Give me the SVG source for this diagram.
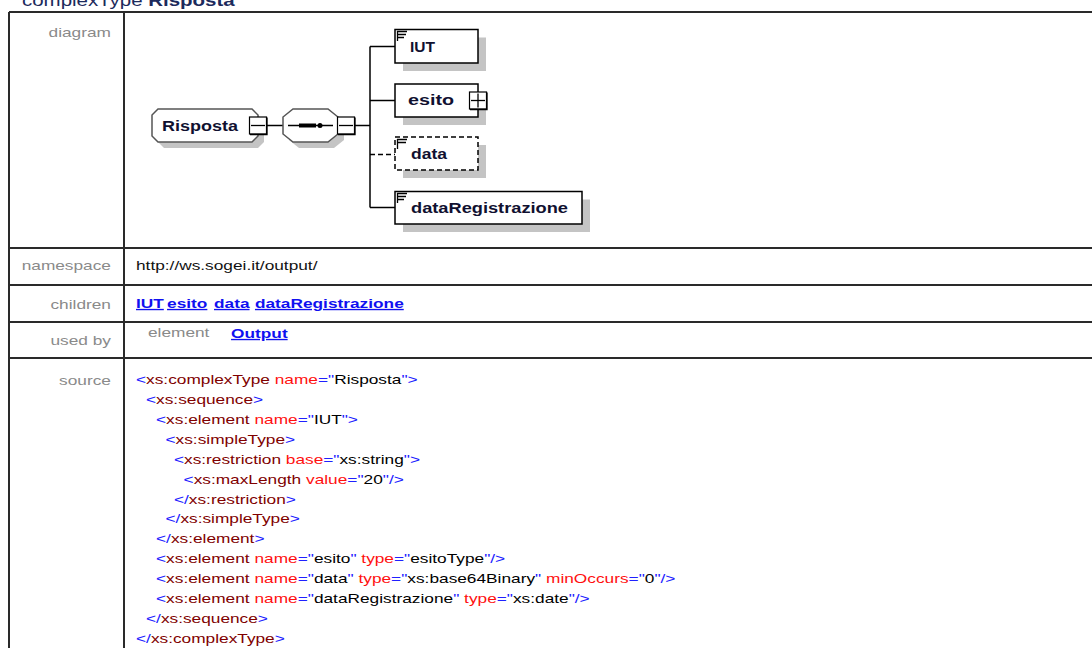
<svg xmlns="http://www.w3.org/2000/svg" width="1092" height="648" viewBox="0 0 1092 648">
<style>
text{font-family:"Liberation Sans",Arial,sans-serif}
.grid{stroke:#2a2a2a;stroke-width:2;fill:none}
.lbl{font-size:13.5px;fill:#8a8a8a;text-anchor:end}
.val{font-size:13.5px;fill:#111}
.lnk{font-size:13.5px;font-weight:bold;fill:#1010f0;text-decoration:underline}
.src{font-size:13.5px}
.b{fill:#2020ff}.e{fill:#800000}.a{fill:#ff1010}.v{fill:#000}
.shadow{fill:#c4c4c4;stroke:none}
.elem{fill:#fff;stroke:#000;stroke-width:1.5}
.comp{fill:#fff;stroke:#555;stroke-width:1.5}
.opt{stroke-dasharray:5,3}
.nt{font-size:14px;font-weight:bold;fill:#101030}
.conn{stroke:#000;stroke-width:1.5;fill:none}
.box{fill:#fff;stroke:#000;stroke-width:1.2}
.icon{stroke:#000;stroke-width:1.3;fill:none}
</style>
<rect width="1092" height="648" fill="#fff"/>
<!-- title -->
<g transform="scale(1.28,1)">
<text x="17.2" y="6" font-size="16" fill="#1c2a5c">complexType <tspan font-weight="bold">Risposta</tspan></text>
</g>
<!-- table grid -->
<g id="table">
<line class="grid" x1="9" y1="12" x2="1092" y2="12"/>
<line class="grid" x1="9" y1="248" x2="1092" y2="248"/>
<line class="grid" x1="9" y1="285" x2="1092" y2="285"/>
<line class="grid" x1="9" y1="322" x2="1092" y2="322"/>
<line class="grid" x1="9" y1="358" x2="1092" y2="358"/>
<line class="grid" x1="9" y1="12" x2="9" y2="648"/>
<line class="grid" x1="124" y1="12" x2="124" y2="648"/>
</g>
<!-- table texts -->
<g id="table-text" transform="scale(1.28,1)">
<text class="lbl" x="86.7" y="37">diagram</text>
<text class="lbl" x="86.7" y="270">namespace</text>
<text class="lbl" x="86.7" y="309">children</text>
<text class="lbl" x="86.7" y="345">used by</text>
<text class="lbl" x="86.7" y="385">source</text>
<text class="val" x="106.25" y="270">http://ws.sogei.it/output/</text>
<text class="lnk" x="106.25" y="308">IUT</text>
<text class="lnk" x="130.5" y="308">esito</text>
<text class="lnk" x="167.2" y="308">data</text>
<text class="lnk" x="199.2" y="308">dataRegistrazione</text>
<text class="lbl" x="115.6" y="337" style="text-anchor:start">element</text>
<text class="lnk" x="180.5" y="338">Output</text>
<text class="src" x="106.25" y="384.5"><tspan class="b">&lt;</tspan><tspan class="e">xs:complexType</tspan><tspan class="a"> name</tspan><tspan class="b">="</tspan><tspan class="v">Risposta</tspan><tspan class="b">"&gt;</tspan></text>
<text class="src" x="114.06" y="404.35"><tspan class="b">&lt;</tspan><tspan class="e">xs:sequence</tspan><tspan class="b">&gt;</tspan></text>
<text class="src" x="121.88" y="424.2"><tspan class="b">&lt;</tspan><tspan class="e">xs:element</tspan><tspan class="a"> name</tspan><tspan class="b">="</tspan><tspan class="v">IUT</tspan><tspan class="b">"&gt;</tspan></text>
<text class="src" x="129.3" y="444.05"><tspan class="b">&lt;</tspan><tspan class="e">xs:simpleType</tspan><tspan class="b">&gt;</tspan></text>
<text class="src" x="135.9" y="463.9"><tspan class="b">&lt;</tspan><tspan class="e">xs:restriction</tspan><tspan class="a"> base</tspan><tspan class="b">="</tspan><tspan class="v">xs:string</tspan><tspan class="b">"&gt;</tspan></text>
<text class="src" x="143.4" y="483.75"><tspan class="b">&lt;</tspan><tspan class="e">xs:maxLength</tspan><tspan class="a"> value</tspan><tspan class="b">="</tspan><tspan class="v">20</tspan><tspan class="b">"/&gt;</tspan></text>
<text class="src" x="135.9" y="503.6"><tspan class="b">&lt;/</tspan><tspan class="e">xs:restriction</tspan><tspan class="b">&gt;</tspan></text>
<text class="src" x="129.3" y="523.45"><tspan class="b">&lt;/</tspan><tspan class="e">xs:simpleType</tspan><tspan class="b">&gt;</tspan></text>
<text class="src" x="121.88" y="543.3"><tspan class="b">&lt;/</tspan><tspan class="e">xs:element</tspan><tspan class="b">&gt;</tspan></text>
<text class="src" x="121.88" y="563.15"><tspan class="b">&lt;</tspan><tspan class="e">xs:element</tspan><tspan class="a"> name</tspan><tspan class="b">="</tspan><tspan class="v">esito</tspan><tspan class="b">"</tspan><tspan class="a"> type</tspan><tspan class="b">="</tspan><tspan class="v">esitoType</tspan><tspan class="b">"/&gt;</tspan></text>
<text class="src" x="121.88" y="583"><tspan class="b">&lt;</tspan><tspan class="e">xs:element</tspan><tspan class="a"> name</tspan><tspan class="b">="</tspan><tspan class="v">data</tspan><tspan class="b">"</tspan><tspan class="a"> type</tspan><tspan class="b">="</tspan><tspan class="v">xs:base64Binary</tspan><tspan class="b">"</tspan><tspan class="a"> minOccurs</tspan><tspan class="b">="</tspan><tspan class="v">0</tspan><tspan class="b">"/&gt;</tspan></text>
<text class="src" x="121.88" y="602.85"><tspan class="b">&lt;</tspan><tspan class="e">xs:element</tspan><tspan class="a"> name</tspan><tspan class="b">="</tspan><tspan class="v">dataRegistrazione</tspan><tspan class="b">"</tspan><tspan class="a"> type</tspan><tspan class="b">="</tspan><tspan class="v">xs:date</tspan><tspan class="b">"/&gt;</tspan></text>
<text class="src" x="114.06" y="622.7"><tspan class="b">&lt;/</tspan><tspan class="e">xs:sequence</tspan><tspan class="b">&gt;</tspan></text>
<text class="src" x="106.25" y="642.55"><tspan class="b">&lt;/</tspan><tspan class="e">xs:complexType</tspan><tspan class="b">&gt;</tspan></text>
</g>
<!-- connectors -->
<g id="connectors">
<line class="conn" x1="267" y1="125.5" x2="283" y2="125.5"/>
<line class="conn" x1="355" y1="125.5" x2="370" y2="125.5"/>
<line class="conn" x1="370" y1="46.5" x2="370" y2="207.5"/>
<line class="conn" x1="370" y1="46.5" x2="395" y2="46.5"/>
<line class="conn" x1="370" y1="100.5" x2="395" y2="100.5"/>
<line class="conn opt" x1="370" y1="154.5" x2="395" y2="154.5"/>
<line class="conn" x1="370" y1="207.5" x2="395" y2="207.5"/>
</g>
<!-- Risposta complexType node -->
<g id="node-Risposta">
<polygon class="shadow" points="164,115 258,115 264,121 264,142 258,148 164,148 158,142 158,121"/>
<polygon class="comp" points="158,109 252,109 258,115 258,136 252,142 158,142 152,136 152,115"/>
<text class="nt" x="162" y="131" textLength="76" lengthAdjust="spacingAndGlyphs">Risposta</text>
<rect class="box" x="249.5" y="117" width="17" height="17"/>
<polyline class="icon" points="267,117.5 267,134.5 250,134.5" stroke-width="2"/>
<line class="icon" x1="251" y1="125.5" x2="265" y2="125.5"/>
</g>
<!-- sequence compositor -->
<g id="node-sequence">
<polygon class="shadow" points="299,115 334,115 344,123 344,140 334,148 299,148 289,140 289,123"/>
<polygon class="comp" points="293,109 328,109 338,117 338,134 328,142 293,142 283,134 283,117"/>
<line class="icon" x1="288" y1="125.5" x2="333" y2="125.5"/>
<line x1="299" y1="125.5" x2="316" y2="125.5" stroke="#000" stroke-width="4"/>
<circle cx="320" cy="125.5" r="2.5" fill="#000"/>
<rect class="box" x="337.5" y="117" width="17" height="17"/>
<polyline class="icon" points="355,117.5 355,134.5 338,134.5" stroke-width="2"/>
<line class="icon" x1="339" y1="125.5" x2="353" y2="125.5"/>
</g>
<!-- IUT -->
<g id="node-IUT">
<rect class="shadow" x="403" y="37.5" width="83" height="33.5"/>
<rect class="elem" x="395" y="29.5" width="83" height="33.5"/>
<path class="icon" d="M397 31.5H407M397 34.5H406M397 37.5H404M397.5 31V41"/>
<text class="nt" x="410" y="52" textLength="25" lengthAdjust="spacingAndGlyphs">IUT</text>
</g>
<!-- esito -->
<g id="node-esito">
<rect class="shadow" x="403" y="92" width="83" height="33"/>
<rect class="elem" x="395" y="84" width="83" height="33"/>
<text class="nt" x="408" y="105" textLength="46" lengthAdjust="spacingAndGlyphs">esito</text>
<rect class="box" x="469.5" y="92" width="17" height="17"/>
<polyline class="icon" points="487,92.5 487,109.5 470,109.5" stroke-width="2"/>
<line class="icon" x1="471" y1="100.5" x2="485" y2="100.5"/>
<line class="icon" x1="478" y1="93.5" x2="478" y2="107.5"/>
</g>
<!-- data (optional) -->
<g id="node-data">
<rect class="shadow" x="403" y="145" width="83" height="33"/>
<rect class="elem opt" x="395" y="137" width="83" height="33"/>
<path class="icon" d="M397 139.5H407M397 142.5H406M397.5 139V149"/>
<text class="nt" x="411" y="159" textLength="36" lengthAdjust="spacingAndGlyphs">data</text>
</g>
<!-- dataRegistrazione -->
<g id="node-dataRegistrazione">
<rect class="shadow" x="403" y="199.5" width="187" height="32.5"/>
<rect class="elem" x="395" y="191.5" width="187" height="32.5"/>
<path class="icon" d="M397 193.5H407M397 196.5H406M397 199.5H404M397.5 193V203"/>
<text class="nt" x="411" y="213" textLength="157" lengthAdjust="spacingAndGlyphs">dataRegistrazione</text>
</g>
</svg>
